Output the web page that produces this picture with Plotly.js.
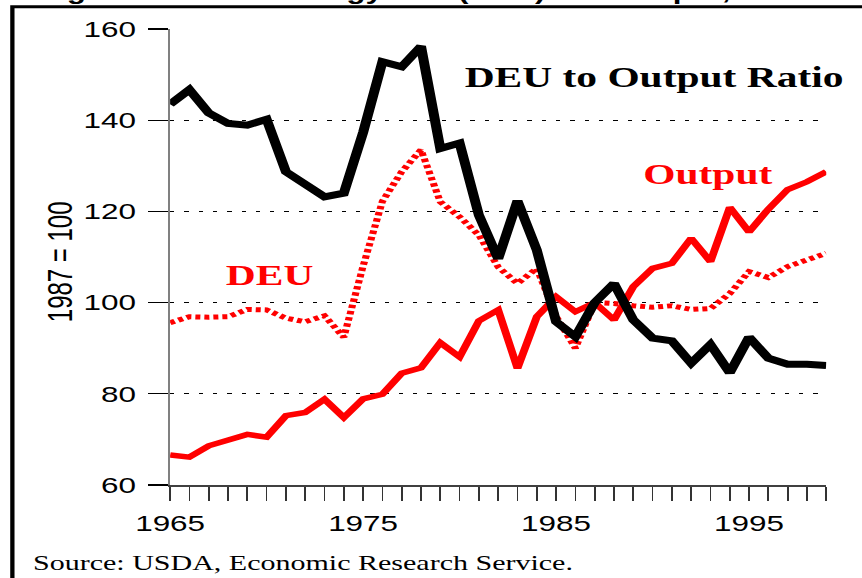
<!DOCTYPE html>
<html>
<head>
<meta charset="utf-8">
<script src="https://cdn.plot.ly/plotly-3.0.1.min.js"></script>
<style>
html,body{margin:0;padding:0;background:#fff;overflow:hidden;width:862px;height:578px;}
#chart{width:603px;height:578px;transform:scaleX(1.4295);transform-origin:0 0;}
</style>
</head>
<body>
<div id="chart"></div>
<script>
const years = [1965,1966,1967,1968,1969,1970,1971,1972,1973,1974,1975,1976,1977,1978,1979,1980,1981,1982,1983,1984,1985,1986,1987,1988,1989,1990,1991,1992,1993,1994,1995,1996,1997,1998,1999];
const deuToOutputRatio = [143.5,146.7,141.6,139.3,138.9,140.2,128.7,126.2,123.2,124.0,137.3,152.8,151.7,156.2,133.8,135.0,119.2,109.6,122.3,111.5,95.8,92.5,100.0,104.2,96.2,92.2,91.6,86.7,90.8,84.6,92.4,87.8,86.5,86.5,86.2];
const output = [66.6,66.1,68.6,69.9,71.1,70.5,75.2,75.9,78.8,74.8,78.9,79.9,84.5,85.7,91.2,88.1,96.0,98.4,85.6,96.9,101.3,98.0,100.0,96.2,103.5,107.5,108.6,114.1,109.0,120.9,115.5,120.5,124.8,126.5,128.7];
const deu = [95.6,96.9,96.8,96.9,98.5,98.4,96.6,95.8,97.1,92.4,108.0,122.2,128.7,133.5,122.1,118.8,114.8,107.8,104.2,107.5,97.0,90.0,100.0,99.8,99.3,99.0,99.3,98.5,98.7,102.0,106.8,105.5,107.9,109.3,110.8];
const yTickValues = [60,80,100,120,140,160];
const yTickLabels = ["60","80","100","120","140","160"];
const xLabelYears = [1965,1975,1985,1995];
const xTickLabels = years.map(y => xLabelYears.includes(y) ? String(y) : "");

const sans = "Liberation Sans, Arial, sans-serif";
const serif = "Liberation Serif, Times New Roman, serif";

const traces = [
  {x: years, y: output, type: 'scatter', mode: 'lines', name: 'Output',
   line: {color: '#ff0000', width: 5.5}},
  {x: years, y: deu, type: 'scatter', mode: 'lines', name: 'DEU',
   line: {color: '#ff0000', width: 5, dash: '3.5px,2.8px'}},
  {x: years, y: deuToOutputRatio, type: 'scatter', mode: 'lines', name: 'DEU to Output Ratio',
   line: {color: '#000000', width: 7}}
];

const layout = {
  width: 603, height: 578,
  margin: {l: 119, r: 24.5, t: 29, b: 93, pad: 0},
  paper_bgcolor: '#ffffff', plot_bgcolor: '#ffffff',
  showlegend: false,
  xaxis: {
    range: [1965, 1999], tickmode: 'array', tickvals: years, ticktext: xTickLabels,
    ticks: 'outside', ticklen: 14, tickwidth: 1.2, tickcolor: '#333333',
    showline: true, linecolor: '#404040', linewidth: 1.5,
    showgrid: false, zeroline: false,
    tickfont: {family: sans, size: 22, color: '#000'},
    ticklabelstandoff: 4
  },
  yaxis: {
    range: [60, 160], tickmode: 'array', tickvals: yTickValues, ticktext: yTickLabels,
    ticks: 'outside', ticklen: 14, tickwidth: 1.2, tickcolor: '#000000',
    showline: true, linecolor: '#808080', linewidth: 1.5,
    showgrid: true, gridcolor: '#000000', gridwidth: 1, griddash: '3px,7px',
    zeroline: false,
    tickfont: {family: sans, size: 22, color: '#000'},
    ticklabelstandoff: 4
  },
  shapes: [
    {type: 'path', xref: 'paper', yref: 'paper',
     path: 'M -0.2404,-0.4 L -0.2404,1.0489 L 1.2,1.0489',
     line: {color: '#000', width: 3}}
  ],
  annotations: [
    {text: 'Figure 1. Direct Energy Use (DEU) and Output, 1965-99', xref: 'paper', yref: 'paper',
     x: -0.2052, y: 1.0827, xanchor: 'left', yanchor: 'middle', showarrow: false,
     font: {family: sans, size: 22, color: '#000', weight: 'bold'}},
    {text: '<b>DEU to Output Ratio</b>', xref: 'paper', yref: 'paper', x: 0.7367, y: 0.8947,
     xanchor: 'center', yanchor: 'middle', showarrow: false,
     font: {family: serif, size: 29, color: '#000'}},
    {text: '<b>Output</b>', xref: 'paper', yref: 'paper', x: 0.8205, y: 0.682,
     xanchor: 'center', yanchor: 'middle', showarrow: false,
     font: {family: serif, size: 29, color: '#ff0000'}},
    {text: '<b>DEU</b>', xref: 'paper', yref: 'paper', x: 0.1514, y: 0.4605,
     xanchor: 'center', yanchor: 'middle', showarrow: false,
     font: {family: serif, size: 29, color: '#ff0000'}},
    {text: '1987 = 100', xref: 'paper', yref: 'paper', x: -0.1695, y: 0.489, textangle: -90,
     xanchor: 'center', yanchor: 'middle', showarrow: false,
     font: {family: sans, size: 24, color: '#000'}},
    {text: 'Source: USDA, Economic Research Service.', xref: 'paper', yref: 'paper', x: -0.213, y: -0.171,
     xanchor: 'left', yanchor: 'middle', showarrow: false,
     font: {family: serif, size: 21, color: '#000'}}
  ]
};

Plotly.newPlot('chart', traces, layout, {staticPlot: true, displayModeBar: false});
</script>
</body>
</html>
